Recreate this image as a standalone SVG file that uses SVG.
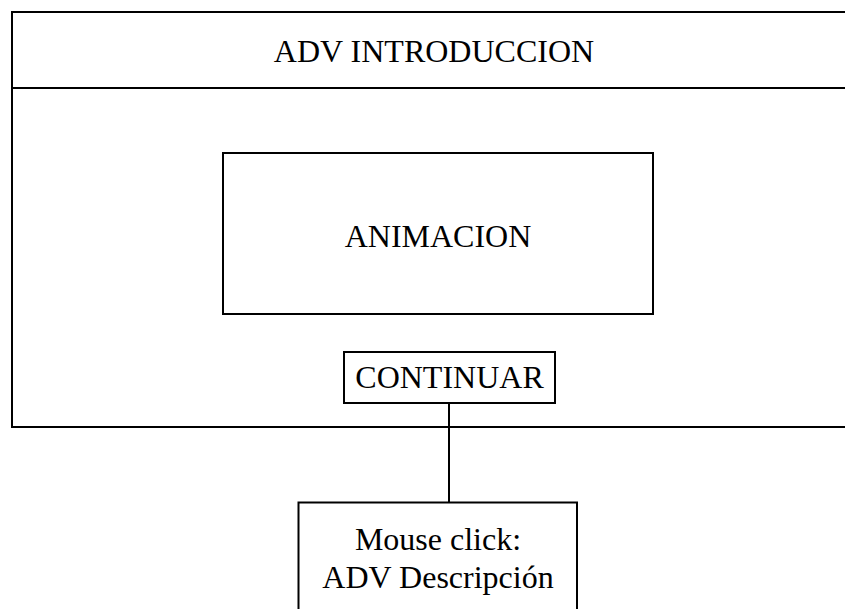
<svg xmlns="http://www.w3.org/2000/svg" width="845" height="609" viewBox="0 0 845 609">
<style>
.box{fill:#fff;stroke:#000;stroke-width:2}
.line{stroke:#000;stroke-width:2;fill:none}
text{font-family:"Liberation Serif","Times New Roman",serif;font-size:32px;fill:#000;text-anchor:middle}
</style>
<rect width="845" height="609" fill="#fff"/>
<g id="adv-introduccion">
<rect class="box" x="12" y="12" width="850" height="415"/>
<line class="line" x1="12" y1="88" x2="862" y2="88"/>
<text x="434" y="62">ADV INTRODUCCION</text>
</g>
<g id="animacion">
<rect class="box" x="223" y="153" width="430" height="161"/>
<text x="438" y="247">ANIMACION</text>
</g>
<g id="continuar">
<rect class="box" x="344" y="352" width="211" height="51"/>
<text x="449.5" y="388">CONTINUAR</text>
</g>
<g id="mouse-click">
<rect class="box" x="298.5" y="502.5" width="278.5" height="120"/>
<text x="438" y="550">Mouse click:</text>
<text x="438" y="588">ADV Descripción</text>
</g>
<g id="connectors">
<line class="line" x1="449" y1="403" x2="449" y2="502.5"/>
</g>
</svg>
